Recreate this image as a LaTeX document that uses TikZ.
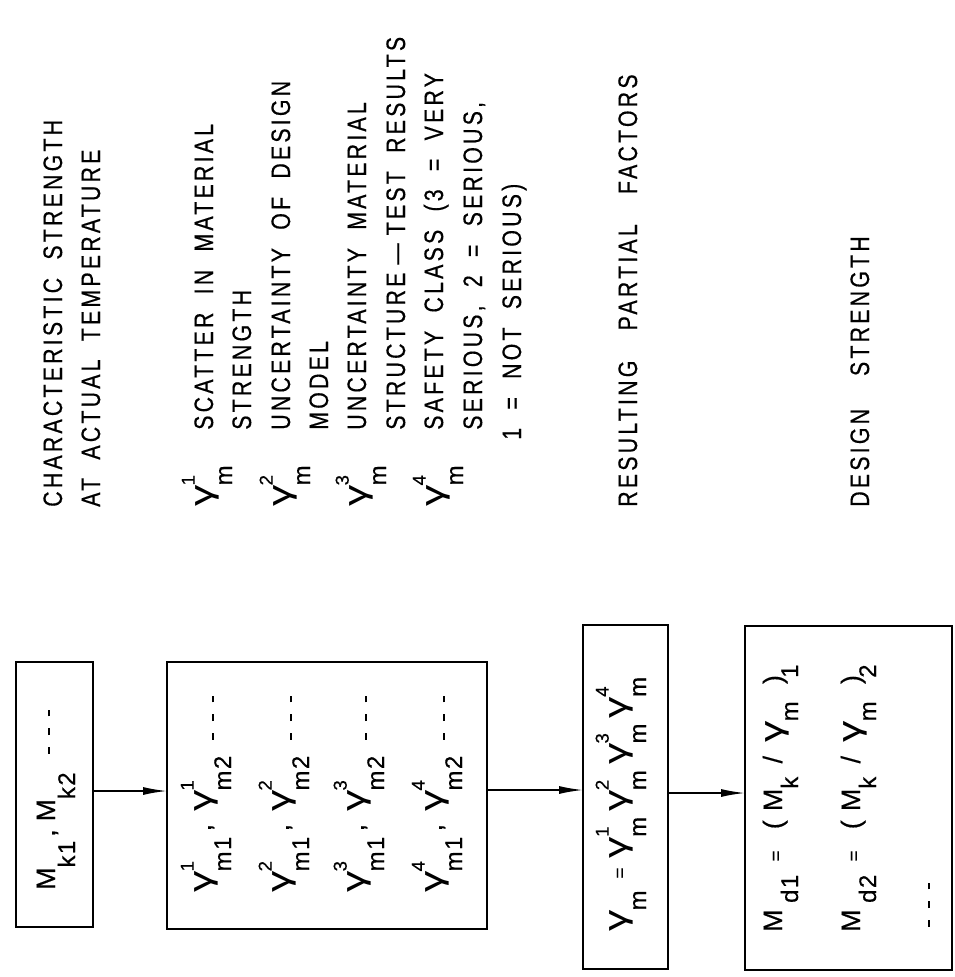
\documentclass[tikz,border=0pt]{standalone}
\usepackage{graphicx}
\usepackage{fontspec}
\setmainfont{Liberation Sans}[FakeStretch=0.8,LetterSpace=12,WordSpace=2,FakeBold=0.4]
\newfontfamily\ff{Liberation Sans}[LetterSpace=6,FakeBold=0.4]
\newfontfamily\gf{Liberation Sans}
\usetikzlibrary{arrows.meta}
\newcommand\scr{\fontsize{18}{18}\selectfont}
\newcommand\scs{\fontsize{14}{14}\selectfont}
\newcommand\G{\scalebox{1.6}[1.2]{\gf γ}}
\newcommand\dn[1]{\raisebox{-15pt}{\scr #1}}
\newcommand\dnb[1]{\raisebox{-12pt}{\scr #1}}
\newcommand\up[1]{\raisebox{13pt}{\scs #1}}
\newcommand\gsm[2]{\G\rlap{\up{#1}}\dn{#2}}
\newcommand\dd[1]{\rule[#1]{5pt}{1.3pt}\kern9pt\rule[#1]{5pt}{1.3pt}\kern9pt\rule[#1]{5pt}{1.3pt}}
\begin{document}
\begin{tikzpicture}[x=0.75pt,y=-0.75pt,
  flowbox/.style={draw, line width=1.2pt, inner sep=0pt, outer sep=0pt},
  lbl/.style={rotate=90, anchor=base west, inner sep=0pt, font=\fontsize{20}{24}\selectfont},
  fml/.style={lbl, font=\ff\fontsize{20}{24}\selectfont},
  arr/.style={line width=1.2pt, -{Latex[length=18pt,width=6pt]}}]
\fill[white] (0,0) rectangle (955,977);
\useasboundingbox (0,0) rectangle (955,977);

% boxes
\node[flowbox, minimum width=57.75pt, minimum height=198.75pt] (b1) at (54.5,794.5) {};
\node[flowbox, minimum width=240pt, minimum height=200.25pt] (b2) at (327,795.5) {};
\node[flowbox, minimum width=63.75pt, minimum height=258pt] (b3) at (625.5,797) {};
\node[flowbox, minimum width=155.25pt, minimum height=258pt] (b4) at (848.5,798) {};

% arrows
\coordinate (a1) at (0,791);
\coordinate (a2) at (0,790);
\coordinate (a3) at (0,793);
\draw[arr] (b1.east |- a1) -- (b2.west |- a1);
\draw[arr] (b2.east |- a2) -- (b3.west |- a2);
\draw[arr] (b3.east |- a3) -- (b4.west |- a3);

% box contents
\node[fml] (t1) at (55,890) {M\dn{k1}\kern3pt,\kern6pt M\dn{k2}\kern14pt\dd{4pt}};
\node[fml] (r1) at (211,893) {\gsm{1}{m1}\kern4pt,\kern9pt\gsm{1}{m2}\kern12pt\dd{-2pt}};
\node[fml] (r2) at (289,893) {\gsm{2}{m1}\kern4pt,\kern9pt\gsm{2}{m2}\kern12pt\dd{-2pt}};
\node[fml] (r3) at (364,893) {\gsm{3}{m1}\kern4pt,\kern9pt\gsm{3}{m2}\kern12pt\dd{-2pt}};
\node[fml] (r4) at (442,893) {\gsm{4}{m1}\kern4pt,\kern9pt\gsm{4}{m2}\kern12pt\dd{-2pt}};
\node[fml] (t3) at (626,932) {\G\dn{m}\kern9pt{\scs =}\kern7pt\gsm{1}{m}\kern4pt\gsm{2}{m}\kern4pt\gsm{3}{m}\kern4pt\gsm{4}{m}};
\node[fml] (t4a) at (782,932) {M\kern5pt\dnb{d1}\kern10pt{\scs =}\kern16pt(\kern7pt M\dnb{k}\kern10pt/\kern10pt\G\dnb{m}\kern13pt)\kern-2pt\dnb{1}};
\node[fml] (t4b) at (860,932) {M\kern5pt\dnb{d2}\kern10pt{\scs =}\kern16pt(\kern7pt M\dnb{k}\kern10pt/\kern10pt\G\dnb{m}\kern13pt)\kern-2pt\dnb{2}};
\node[fml] (t4c) at (930,927) {\dd{0pt}};

% descriptions
\node[lbl] (h1) at (62,507) {CHARACTERISTIC STRENGTH};
\node[lbl] (h2) at (100,507) {AT ACTUAL TEMPERATURE};
\node[fml] (s1) at (212,507) {\gsm{1}{m}};
\node[lbl] (d1a) at (213,430) {SCATTER IN MATERIAL};
\node[lbl] (d1b) at (251,430) {STRENGTH};
\node[fml] (s2) at (290,507) {\gsm{2}{m}};
\node[lbl] (d2a) at (290,430) {UNCERTAINTY OF DESIGN};
\node[lbl] (d2b) at (328,430) {MODEL};
\node[fml] (s3) at (366,507) {\gsm{3}{m}};
\node[lbl] (d3a) at (366,430) {UNCERTAINTY MATERIAL};
\node[lbl] (d3b) at (405,430) {STRUCTURE\kern6pt—\kern6pt TEST RESULTS};
\node[fml] (s4) at (443,507) {\gsm{4}{m}};
\node[lbl] (d4a) at (443,430) {SAFETY CLASS (3 = VERY};
\node[lbl] (d4b) at (482,430) {SERIOUS, 2 = SERIOUS,};
\node[lbl] (d4c) at (521,440) {1 = NOT SERIOUS)};
\node[lbl] (rp) at (637,507) {RESULTING\kern9pt{} PARTIAL\kern9pt{} FACTORS};
\node[lbl] (ds) at (869,507) {DESIGN\kern11pt{} STRENGTH};
\end{tikzpicture}
\end{document}
